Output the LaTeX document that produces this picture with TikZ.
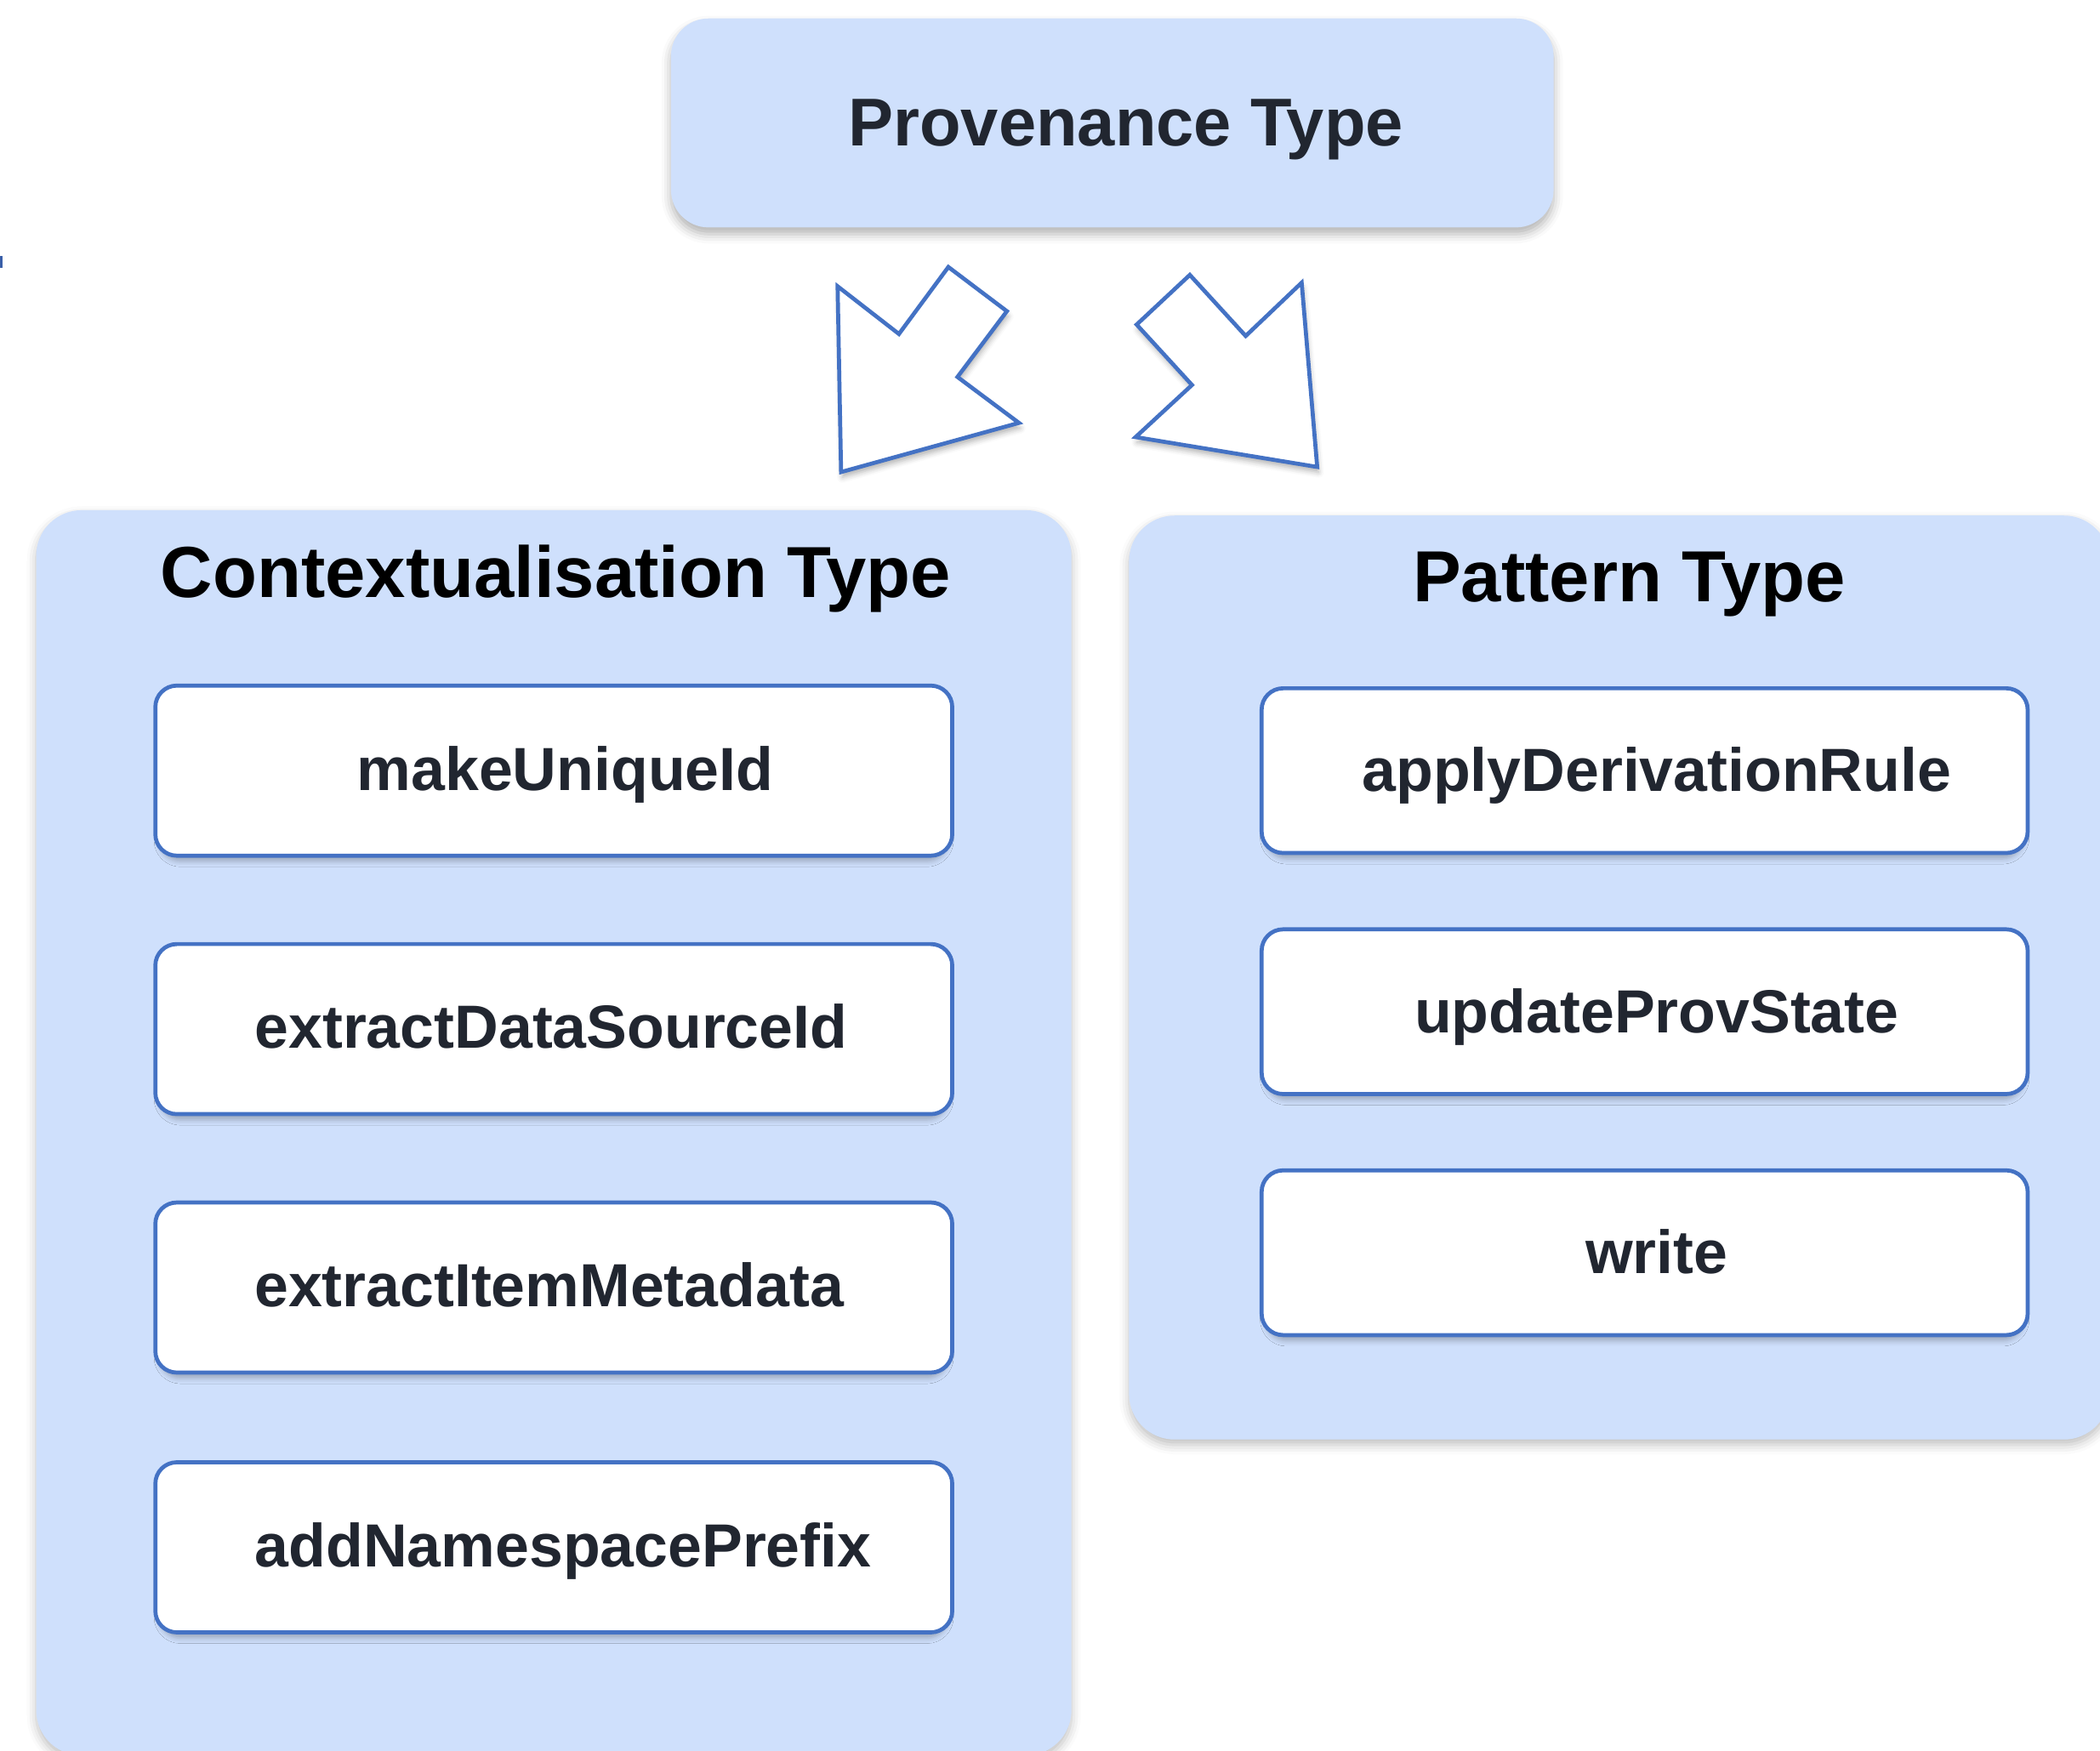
\documentclass[tikz,border=0pt]{standalone}
\usepackage{fontspec}
\setmainfont{Liberation Sans}
\usetikzlibrary{shadows.blur}

\definecolor{panelblue}{RGB}{207,224,252}
\definecolor{edgeblue}{RGB}{68,114,196}
\definecolor{inktext}{RGB}{33,38,48}
\definecolor{tickblue}{RGB}{58,95,168}

\tikzset{
  panel/.style={fill=panelblue, draw=none, inner sep=0pt, rounded corners=34pt,
    blur shadow={shadow xshift=0pt, shadow yshift=-4pt, shadow blur radius=7pt, shadow opacity=25}},
  headbox/.style={fill=panelblue, draw=none, inner sep=0pt, rounded corners=28pt,
    blur shadow={shadow xshift=0pt, shadow yshift=-5pt, shadow blur radius=7pt, shadow opacity=30}},
  opbox/.style={fill=white, draw=edgeblue, line width=3pt, inner sep=0pt, rounded corners=16pt,
    blur shadow={shadow xshift=0pt, shadow yshift=-5pt, shadow scale=0.99, shadow blur radius=4pt, shadow opacity=25}},
  optext/.style={font=\bfseries\fontsize{45.5pt}{50pt}\selectfont, text=inktext, anchor=base, inner sep=0pt},
  paneltitle/.style={font=\bfseries\fontsize{54pt}{60pt}\selectfont, text=black, anchor=base, inner sep=0pt},
  headtitle/.style={font=\bfseries\fontsize{50.5pt}{56pt}\selectfont, text=inktext, anchor=base, inner sep=0pt},
  blockarrow/.style={fill=white, draw=edgeblue, line width=3pt, line join=miter,
    blur shadow={shadow xshift=1pt, shadow yshift=-4pt, shadow blur radius=4pt, shadow opacity=30}}
}

\begin{document}
\begin{tikzpicture}[x=1pt, y=-1pt]
  \useasboundingbox (0,0) rectangle (1568,1307);

  % small mark at the left edge
  \fill[tickblue] (0,191) rectangle (1.8,200);

  % top-level type
  \node[headbox, minimum width=659pt, minimum height=156pt] (prov) at (830.5,91.8) {};
  \node[headtitle] (provtitle) at (840.6,109) {Provenance Type};

  % block arrows pointing down to the two sub-types
  \draw[blockarrow] (625.4,213.8) -- (671.2,249.4) -- (708.1,199.4) -- (751.8,232.4)
    -- (714.9,281.5) -- (760.8,315.8) -- (628.0,352.5) -- cycle;
  \draw[blockarrow] (848.7,242.4) -- (888.4,205.3) -- (930.1,250.9) -- (971.9,211.1)
    -- (983.5,348.7) -- (847.9,326.4) -- (890.0,287.5) -- cycle;

  % containers
  \node[panel, minimum width=773pt, minimum height=930pt] (ctx) at (413.5,846) {};
  \node[panel, minimum width=732pt, minimum height=690pt] (pat) at (1209,730) {};

  \node[paneltitle] (ctxtitle) at (415,446) {Contextualisation Type};
  \node[paneltitle] (pattitle) at (1216.5,449.5) {Pattern Type};

  % contextualisation operations
  \node[opbox, minimum width=595pt, minimum height=127pt] (op1) at (413.5,575.5) {};
  \node[opbox, minimum width=595pt, minimum height=127pt] (op2) at (413.5,768.5) {};
  \node[opbox, minimum width=595pt, minimum height=127pt] (op3) at (413.5,961.5) {};
  \node[opbox, minimum width=595pt, minimum height=127pt] (op4) at (413.5,1155.5) {};
  \node[optext] (op1t) at (422,590) {makeUniqueId};
  \node[optext] (op2t) at (411.5,783) {extractDataSourceId};
  \node[optext] (op3t) at (410,976) {extractItemMetadata};
  \node[optext] (op4t) at (420.5,1170) {addNamespacePrefix};

  % pattern operations
  \node[opbox, minimum width=572pt, minimum height=123pt] (pt1) at (1228,575.5) {};
  \node[opbox, minimum width=572pt, minimum height=123pt] (pt2) at (1228,755.5) {};
  \node[opbox, minimum width=572pt, minimum height=123pt] (pt3) at (1228,935.5) {};
  \node[optext] (pt1t) at (1237,591) {applyDerivationRule};
  \node[optext] (pt2t) at (1237,771) {updateProvState};
  \node[optext] (pt3t) at (1237,951) {write};
\end{tikzpicture}
\end{document}
